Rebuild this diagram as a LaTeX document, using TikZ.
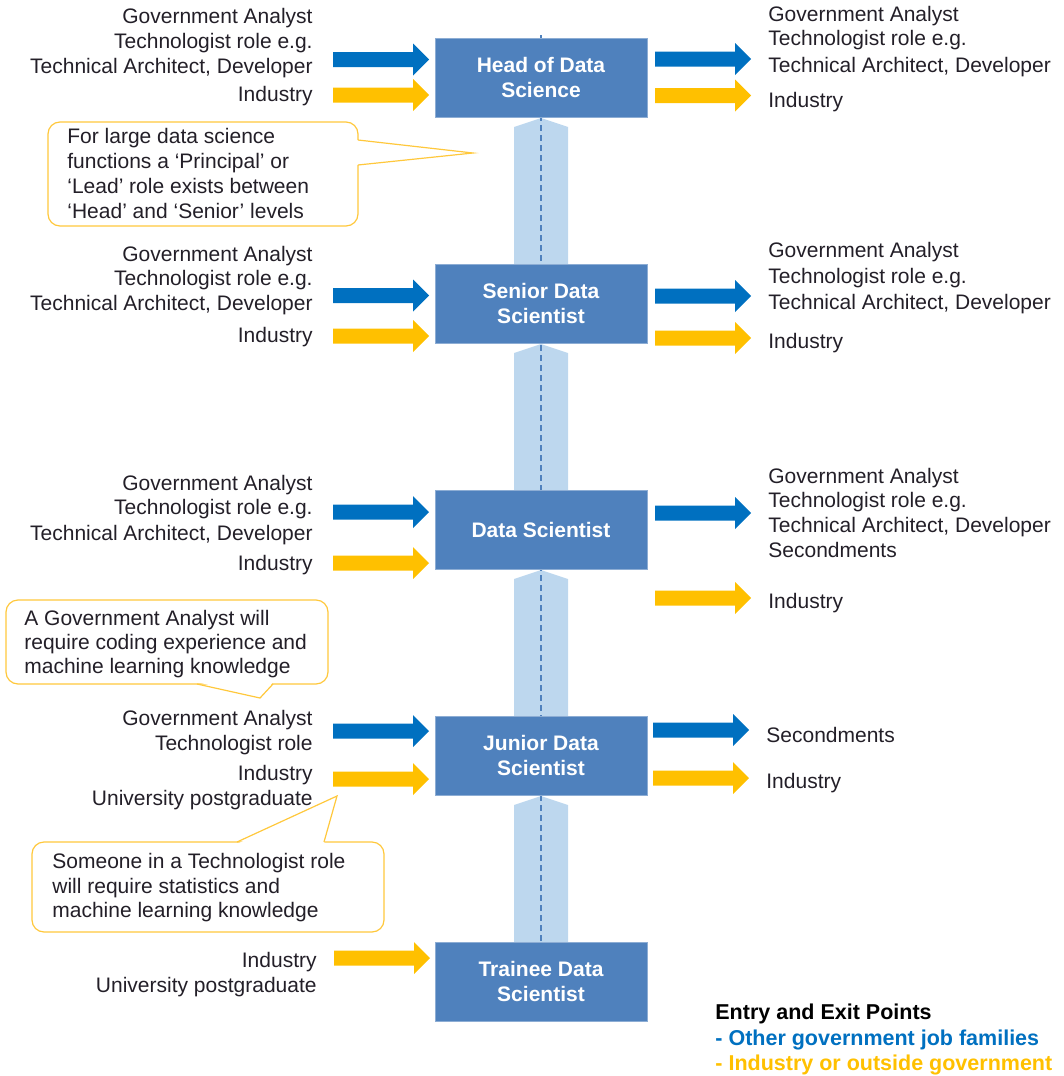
\documentclass[tikz,border=0pt]{standalone}
\usepackage{fontspec}
\setmainfont{Liberation Sans}
\usepackage{tikz}
\definecolor{stageblue}{RGB}{79,129,189}
\definecolor{ladderblue}{RGB}{189,215,238}
\definecolor{govblue}{RGB}{0,112,192}
\definecolor{indgold}{RGB}{255,192,0}
\definecolor{notegold}{RGB}{255,200,60}
\definecolor{txtgrey}{RGB}{35,31,40}

\begin{document}
\begin{tikzpicture}
	[x=0.5pt,y=-0.5pt,
	every node/.style={inner sep=0pt,text=txtgrey,font=\fontsize{10.5pt}{12.5pt}\selectfont},
	stage/.style={rectangle,fill=stageblue,draw=stageblue!65!white,line width=0.5pt,minimum width=106pt,minimum height=39.5pt,align=center,text=white,font=\fontsize{10.5pt}{12.5pt}\selectfont\bfseries},
	lft/.style={anchor=base east},
	rgt/.style={anchor=base west},
	key/.style={anchor=base west,font=\fontsize{10.75pt}{12.5pt}\selectfont\bfseries},
	note/.style={draw=notegold,line width=0.6pt,fill=white,rounded corners=6pt},
	blockarrow/.pic={\fill[#1] (0,-7.5) -- (80,-7.5) -- (80,-16) -- (96,0) -- (80,16) -- (80,7.5) -- (0,7.5) -- cycle;}]
	\useasboundingbox (0,0) rectangle (1064,1076);
	% ladder behind the boxes
	\coordinate (top) at (541,35);
	\coordinate (bot) at (541,1022);
	\foreach \c in {77.5,303.5,529.5,755.5}
		\fill[ladderblue] (514,\c+49.5) -- (541,\c+40.5) -- (568,\c+49.5) -- (568,\c+186.5) -- (514,\c+186.5) -- cycle;
	\draw[stageblue,line width=0.6pt,dash pattern=on 3pt off 2pt] (top) -- (bot);
	% stages
	\node (head) [stage] at (541,77.5) {Head of Data\\Science};
	\node (senior) [stage] at (541,303.5) {Senior Data\\Scientist};
	\node (ds) [stage] at (541,529.5) {Data Scientist};
	\node (junior) [stage] at (541,755.5) {Junior Data\\Scientist};
	\node (trainee) [stage] at (541,981.5) {Trainee Data\\Scientist};
	% entry arrows
	\pic at (333,59.5) {blockarrow=govblue};
	\pic at (333,95) {blockarrow=indgold};
	\pic at (333,295.5) {blockarrow=govblue};
	\pic at (333,336) {blockarrow=indgold};
	\pic at (333,512) {blockarrow=govblue};
	\pic at (333,563) {blockarrow=indgold};
	\pic at (333,731) {blockarrow=govblue};
	\pic at (333,779) {blockarrow=indgold};
	\pic at (334,958) {blockarrow=indgold};
	% exit arrows
	\pic at (655,59) {blockarrow=govblue};
	\pic at (655,95.5) {blockarrow=indgold};
	\pic at (655,296) {blockarrow=govblue};
	\pic at (655,338) {blockarrow=indgold};
	\pic at (655,513) {blockarrow=govblue};
	\pic at (655,598) {blockarrow=indgold};
	\pic at (653,730) {blockarrow=govblue};
	\pic at (653,778) {blockarrow=indgold};
	% head
	\node (h1) [lft] at (313,24) {Government Analyst};
	\node (h2) [lft] at (313,48.5) {Technologist role e.g.};
	\node (h3) [lft] at (313,73) {Technical Architect, Developer};
	\node (h4) [lft] at (313,101) {Industry};
	\node (h5) [rgt] at (768,21) {Government Analyst};
	\node (h6) [rgt] at (768,46) {Technologist role e.g.};
	\node (h7) [rgt] at (768,72) {Technical Architect, Developer};
	\node (h8) [rgt] at (768,107) {Industry};
	% senior
	\node (s1) [lft] at (313,261) {Government Analyst};
	\node (s2) [lft] at (313,285.5) {Technologist role e.g.};
	\node (s3) [lft] at (313,310) {Technical Architect, Developer};
	\node (s4) [lft] at (313,342) {Industry};
	\node (s5) [rgt] at (768,257) {Government Analyst};
	\node (s6) [rgt] at (768,283) {Technologist role e.g.};
	\node (s7) [rgt] at (768,309) {Technical Architect, Developer};
	\node (s8) [rgt] at (768,348) {Industry};
	% data scientist
	\node (d1) [lft] at (313,490) {Government Analyst};
	\node (d2) [lft] at (313,514.5) {Technologist role e.g.};
	\node (d3) [lft] at (313,540) {Technical Architect, Developer};
	\node (d4) [lft] at (313,570) {Industry};
	\node (d5) [rgt] at (768,483) {Government Analyst};
	\node (d6) [rgt] at (768,507.5) {Technologist role e.g.};
	\node (d7) [rgt] at (768,532) {Technical Architect, Developer};
	\node (d8) [rgt] at (768,557) {Secondments};
	\node (d9) [rgt] at (768,608) {Industry};
	% junior
	\node (j1) [lft] at (313,725) {Government Analyst};
	\node (j2) [lft] at (313,750) {Technologist role};
	\node (j3) [lft] at (313,780) {Industry};
	\node (j4) [lft] at (313,805) {University postgraduate};
	\node (j5) [rgt] at (766,742) {Secondments};
	\node (j6) [rgt] at (766,788) {Industry};
	% trainee
	\node (t1) [lft] at (317,967) {Industry};
	\node (t2) [lft] at (317,992) {University postgraduate};
	% notes
	\draw[note] (48,122) rectangle (358,226);
	\fill[white] (356,140) -- (473,153) -- (356,165) -- cycle;
	\draw[notegold,line width=0.6pt] (358,140) -- (473,153) -- (358,165);
	\node (n1) [rgt] at (67,143) {For large data science};
	\node (n2) [rgt] at (67,168) {functions a `Principal' or};
	\node (n3) [rgt] at (67,193) {`Lead' role exists between};
	\node (n4) [rgt] at (67,218) {`Head' and `Senior' levels};
	\draw[note] (6,600) rectangle (328,684);
	\fill[white] (197,682) -- (260,698) -- (273,682) -- cycle;
	\draw[notegold,line width=0.6pt] (197,684) -- (260,698) -- (273,684);
	\node (n5) [rgt] at (24,625) {A Government Analyst will};
	\node (n6) [rgt] at (24,649) {require coding experience and};
	\node (n7) [rgt] at (24,673) {machine learning knowledge};
	\draw[note] (32,842) rectangle (384,932);
	\fill[white] (237,844) -- (337,796) -- (324,844) -- cycle;
	\draw[notegold,line width=0.6pt] (237,842) -- (337,796) -- (324,842);
	\node (n8) [rgt] at (52,868) {Someone in a Technologist role};
	\node (n9) [rgt] at (52,893) {will require statistics and};
	\node (n10) [rgt] at (52,917) {machine learning knowledge};
	% key
	\node (k1) [key,text=black] at (715,1019) {Entry and Exit Points};
	\node (k2) [key,text=govblue] at (715,1045) {- Other government job families};
	\node (k3) [key,text=indgold] at (715,1070) {- Industry or outside government};
\end{tikzpicture}
\end{document}
